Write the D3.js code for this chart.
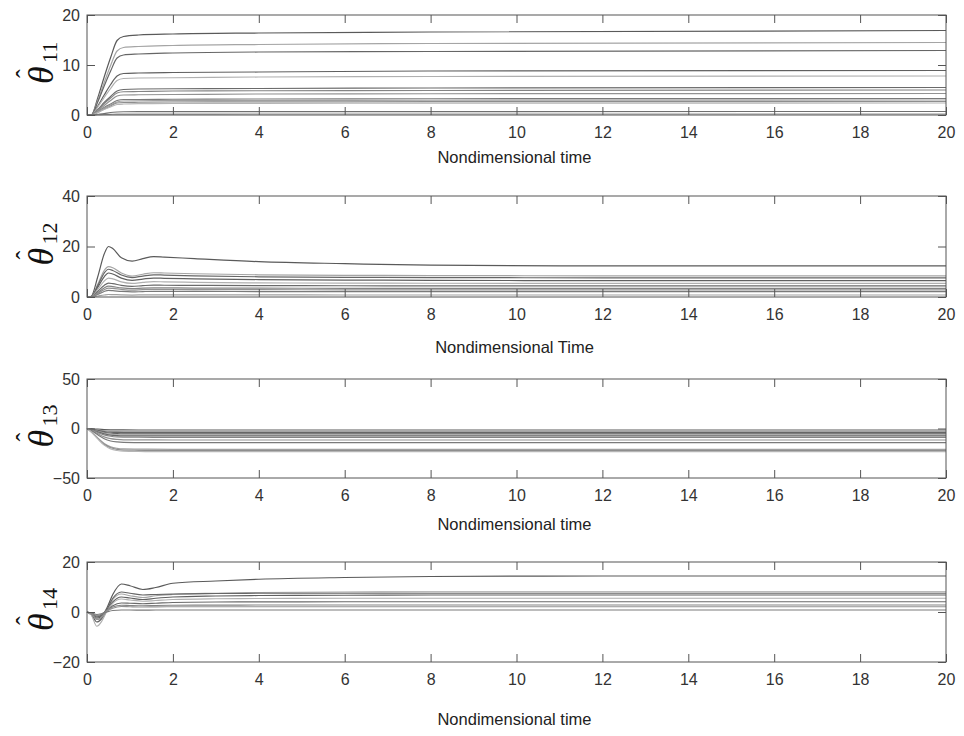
<!DOCTYPE html>
<html>
<head>
<meta charset="utf-8">
<script src="https://cdn.jsdelivr.net/npm/d3@7"></script>
<style>
  html, body { margin: 0; padding: 0; background: #fff; }
  svg { display: block; }
</style>
</head>
<body>
<svg id="chart" width="964" height="736"></svg>
<script>
// ---------- DATA ----------
const xTicks = [0, 2, 4, 6, 8, 10, 12, 14, 16, 18, 20];

// Panel 1: theta_11
const time11 = [0, 0.1, 0.25, 0.4, 0.55, 0.7, 0.85, 1.2, 2, 4, 8, 20];
const theta11 = [
  [0, 0, 3.4, 7.6, 11.5, 14.9, 15.7, 16.0, 16.2, 16.4, 16.6, 16.9],
  [0, 0, 2.9, 6.5, 9.9, 12.8, 13.5, 13.7, 13.9, 14.1, 14.3, 14.5],
  [0, 0, 2.6, 5.8, 8.8, 11.4, 12.0, 12.2, 12.4, 12.6, 12.7, 12.9],
  [0, 0, 1.8, 4.0, 6.1, 7.8, 8.3, 8.4, 8.5, 8.6, 8.8, 8.9],
  [0, 0, 1.6, 3.5, 5.3, 6.9, 7.3, 7.4, 7.45, 7.6, 7.7, 7.8],
  [0, 0, 1.1, 2.5, 3.7, 4.8, 5.1, 5.2, 5.25, 5.3, 5.4, 5.5],
  [0, 0, 1.0, 2.3, 3.4, 4.4, 4.65, 4.7, 4.8, 4.85, 4.9, 5.0],
  [0, 0, 0.9, 1.9, 2.9, 3.8, 4.0, 4.05, 4.1, 4.2, 4.25, 4.3],
  [0, 0, 0.7, 1.5, 2.2, 2.9, 3.1, 3.1, 3.15, 3.2, 3.25, 3.3],
  [0, 0, 0.6, 1.35, 2.0, 2.6, 2.8, 2.85, 2.87, 2.9, 2.95, 3.0],
  [0, 0, 0.5, 1.2, 1.8, 2.4, 2.5, 2.55, 2.6, 2.62, 2.66, 2.7],
  [0, 0, 0.5, 1.1, 1.6, 2.1, 2.2, 2.27, 2.3, 2.33, 2.37, 2.4],
  [0, 0, 0.15, 0.3, 0.5, 0.6, 0.65, 0.66, 0.67, 0.68, 0.69, 0.7],
  [0, 0, 0.05, 0.1, 0.14, 0.18, 0.19, 0.19, 0.19, 0.2, 0.2, 0.2]
];
const yTicks11 = [0, 10, 20];

// Panel 2: theta_12
const time12 = [0, 0.1, 0.25, 0.4, 0.5, 0.6, 0.8, 1.05, 1.3, 1.55, 1.8, 2.5, 4, 6, 8, 12, 20];
const theta12 = [
  [0, 0.3, 8, 17, 20, 19.2, 15.5, 14.2, 15.2, 16.0, 15.8, 15.2, 14.0, 13.2, 12.6, 12.3, 12.3],
  [0, 0.2, 5, 10.5, 12, 11.6, 9.5, 8.3, 9.0, 9.6, 9.5, 9.2, 8.8, 8.6, 8.5, 8.4, 8.4],
  [0, 0.2, 4.5, 9.5, 11, 10.5, 8.7, 7.7, 8.3, 8.8, 8.7, 8.4, 8.0, 7.8, 7.7, 7.6, 7.6],
  [0, 0.2, 3.8, 8, 9.5, 9.1, 7.5, 6.6, 7.1, 7.5, 7.4, 7.2, 6.9, 6.7, 6.6, 6.5, 6.5],
  [0, 0.1, 3, 6.3, 7.5, 7.2, 6, 5.4, 5.8, 6.1, 6.0, 5.8, 5.6, 5.5, 5.45, 5.4, 5.4],
  [0, 0.1, 2.2, 4.6, 5.5, 5.3, 4.6, 4.2, 4.5, 4.7, 4.65, 4.6, 4.5, 4.45, 4.4, 4.4, 4.4],
  [0, 0.1, 1.7, 3.6, 4.3, 4.1, 3.6, 3.3, 3.5, 3.6, 3.6, 3.55, 3.5, 3.45, 3.4, 3.4, 3.4],
  [0, 0.1, 1.4, 2.9, 3.5, 3.4, 3.0, 2.7, 2.9, 3.0, 3.0, 2.95, 2.9, 2.85, 2.8, 2.8, 2.8],
  [0, 0, 1.0, 2.2, 2.6, 2.5, 2.2, 2.0, 2.15, 2.25, 2.2, 2.2, 2.15, 2.1, 2.1, 2.1, 2.1],
  [0, 0, 0.4, 0.8, 1.0, 0.95, 0.85, 0.78, 0.82, 0.85, 0.84, 0.82, 0.81, 0.8, 0.8, 0.8, 0.8]
];
const yTicks12 = [0, 20, 40];

// Panel 3: theta_13
const time13 = [0, 0.1, 0.25, 0.4, 0.55, 0.7, 0.85, 1.2, 2, 4, 8, 20];
const theta13 = [
  [0, -0.2, -0.7, -1.1, -1.3, -1.4, -1.45, -1.5, -1.5, -1.5, -1.5, -1.5],
  [0, -0.5, -1.4, -2.2, -2.6, -2.85, -2.95, -3.0, -3.0, -3.0, -3.0, -3.0],
  [0, -0.6, -1.9, -3.0, -3.7, -4.0, -4.1, -4.15, -4.2, -4.2, -4.2, -4.2],
  [0, -0.8, -2.5, -4.0, -4.8, -5.2, -5.4, -5.45, -5.5, -5.5, -5.5, -5.5],
  [0, -1.0, -2.9, -4.7, -5.7, -6.2, -6.4, -6.45, -6.5, -6.5, -6.5, -6.5],
  [0, -1.1, -3.4, -5.4, -6.6, -7.1, -7.35, -7.45, -7.5, -7.5, -7.5, -7.5],
  [0, -1.3, -4.0, -6.4, -7.8, -8.5, -8.7, -8.8, -8.9, -8.9, -8.9, -8.9],
  [0, -1.7, -5.2, -8.4, -10.2, -11.0, -11.4, -11.5, -11.6, -11.6, -11.6, -11.6],
  [0, -2.1, -6.4, -10.3, -12.6, -13.6, -14.0, -14.2, -14.3, -14.3, -14.3, -14.3],
  [0, -3.2, -9.5, -15.1, -18.5, -20.0, -20.6, -20.8, -21.0, -21.0, -21.0, -21.0],
  [0, -3.3, -10.0, -16.0, -19.5, -21.1, -21.8, -22.0, -22.2, -22.2, -22.2, -22.2],
  [0, -3.5, -10.5, -16.8, -20.6, -22.2, -22.9, -23.2, -23.4, -23.4, -23.4, -23.4]
];
const yTicks13 = [-50, 0, 50];

// Panel 4: theta_14
const time14 = [0, 0.1, 0.23, 0.35, 0.46, 0.6, 0.8, 1.0, 1.3, 1.6, 2, 3, 4, 6, 8, 12, 20];
const theta14 = [
  [0, -1, -2.5, -1.5, 1.5, 7, 11.2, 10.5, 9.0, 9.8, 11.5, 12.4, 13.1, 13.8, 14.2, 14.4, 14.4],
  [0, -0.8, -3, -2, 0.8, 5, 7.2, 6.5, 5.8, 6.5, 7.0, 7.5, 7.8, 8.0, 8.1, 8.1, 8.1],
  [0, -0.5, -2, -1, 1, 5.5, 8, 7.5, 6.8, 7.0, 7.2, 7.4, 7.5, 7.5, 7.5, 7.5, 7.5],
  [0, -1, -4, -2.5, 0.5, 4, 6.0, 5.6, 5.0, 5.5, 6.0, 6.4, 6.6, 6.7, 6.8, 6.8, 6.8],
  [0, -1.2, -5.7, -3.5, 0.2, 3.5, 5.2, 4.8, 4.3, 4.6, 5.0, 5.3, 5.4, 5.5, 5.5, 5.5, 5.5],
  [0, -0.6, -2, -1.2, 0.5, 2.5, 3.6, 3.5, 3.3, 3.5, 3.8, 4.0, 4.05, 4.1, 4.1, 4.1, 4.1],
  [0, -0.5, -1.5, -0.8, 0.6, 2, 2.7, 2.6, 2.5, 2.6, 2.7, 2.75, 2.8, 2.8, 2.8, 2.8, 2.8],
  [0, -0.7, -3, -2, 0.3, 1.5, 2.2, 2.1, 2.0, 2.05, 2.1, 2.1, 2.1, 2.1, 2.1, 2.1, 2.1],
  [0, -0.3, -1, -0.6, 0, 0.6, 0.8, 0.8, 0.75, 0.8, 0.8, 0.8, 0.8, 0.8, 0.8, 0.8, 0.8]
];
const yTicks14 = [-20, 0, 20];

const subscripts = ["11", "12", "13", "14"];
const xTitles = ["Nondimensional time", "Nondimensional Time", "Nondimensional time", "Nondimensional time"];

// ---------- STYLE / LAYOUT ----------
const greys = ["#5a5a5a", "#a5a5a5", "#666666", "#606060", "#b0b0b0", "#6a6a6a", "#848484",
               "#929292", "#7a7a7a", "#a0a0a0", "#8e8e8e", "#b5b5b5", "#707070", "#949494"];
const frameColor = "#555555";
const left = 87, right = 946;
const panels = [
  { time: time11, series: theta11, yTicks: yTicks11, top: 15,  bottom: 115, titleY: 163 },
  { time: time12, series: theta12, yTicks: yTicks12, top: 196, bottom: 297, titleY: 353 },
  { time: time13, series: theta13, yTicks: yTicks13, top: 379, bottom: 478, titleY: 530 },
  { time: time14, series: theta14, yTicks: yTicks14, top: 562, bottom: 662, titleY: 725 }
];

const svg = d3.select("#chart");
const x = d3.scaleLinear().domain([0, 20]).range([left, right]);
const tickLen = 8;
const fontSans = "'Liberation Sans', Arial, Helvetica, sans-serif";
const fontSerif = "'Liberation Serif', 'DejaVu Serif', serif";

panels.forEach((p, i) => {
  const y = d3.scaleLinear()
    .domain([p.yTicks[0], p.yTicks[p.yTicks.length - 1]])
    .range([p.bottom, p.top]);
  const g = svg.append("g");

  // lines
  const line = d3.line()
    .x((d, k) => x(p.time[k]))
    .y(d => y(d))
    .curve(d3.curveMonotoneX);
  g.selectAll("path.series")
    .data(p.series)
    .join("path")
    .attr("class", "series")
    .attr("fill", "none")
    .attr("stroke", (d, k) => greys[k % greys.length])
    .attr("stroke-width", 1.2)
    .attr("d", line);

  // axes (ticks inward)
  const axStyle = sel => {
    sel.select(".domain").remove();
    sel.selectAll(".tick line").attr("stroke", frameColor);
    sel.selectAll(".tick text")
      .attr("fill", "#333")
      .style("font-family", fontSans)
      .style("font-size", "16px");
  };
  g.append("g")
    .attr("transform", `translate(0,${p.bottom})`)
    .call(d3.axisBottom(x).tickValues(xTicks).tickFormat(d3.format("d"))
      .tickSizeInner(-tickLen).tickSizeOuter(0).tickPadding(12))
    .call(axStyle);
  g.append("g")
    .attr("transform", `translate(0,${p.top})`)
    .call(d3.axisTop(x).tickValues(xTicks).tickFormat("")
      .tickSizeInner(-tickLen).tickSizeOuter(0))
    .call(axStyle);
  g.append("g")
    .attr("transform", `translate(${left},0)`)
    .call(d3.axisLeft(y).tickValues(p.yTicks).tickFormat(d3.format("d"))
      .tickSizeInner(-tickLen).tickSizeOuter(0).tickPadding(7))
    .call(axStyle);
  g.append("g")
    .attr("transform", `translate(${right},0)`)
    .call(d3.axisRight(y).tickValues(p.yTicks).tickFormat("")
      .tickSizeInner(-tickLen).tickSizeOuter(0))
    .call(axStyle);

  // frame
  g.append("rect")
    .attr("x", left).attr("y", p.top)
    .attr("width", right - left).attr("height", p.bottom - p.top)
    .attr("fill", "none").attr("stroke", frameColor).attr("stroke-width", 1);

  // x title
  g.append("text")
    .attr("x", (left + right) / 2 - 2)
    .attr("y", p.titleY)
    .attr("text-anchor", "middle")
    .attr("fill", "#222")
    .style("font-family", fontSans)
    .style("font-size", "16.5px")
    .text(xTitles[i]);

  // y label: theta-hat with subscript, rotated
  const cy = (p.top + p.bottom) / 2;
  const lab = g.append("g").attr("transform", `translate(53,${cy + 19}) rotate(-90)`);
  lab.append("text")
    .attr("x", 0).attr("y", 0)
    .attr("fill", "#111")
    .style("font-family", fontSerif)
    .style("font-style", "italic")
    .style("font-size", "36px")
    .text("θ");
  lab.append("text")
    .attr("x", 6).attr("y", -19)
    .attr("fill", "#111")
    .style("font-family", fontSerif)
    .style("font-size", "26px")
    .text("ˆ");
  lab.append("text")
    .attr("x", 21).attr("y", 4)
    .attr("fill", "#111")
    .style("font-family", fontSerif)
    .style("font-size", "22px")
    .text(subscripts[i]);
});
</script>
</body>
</html>
